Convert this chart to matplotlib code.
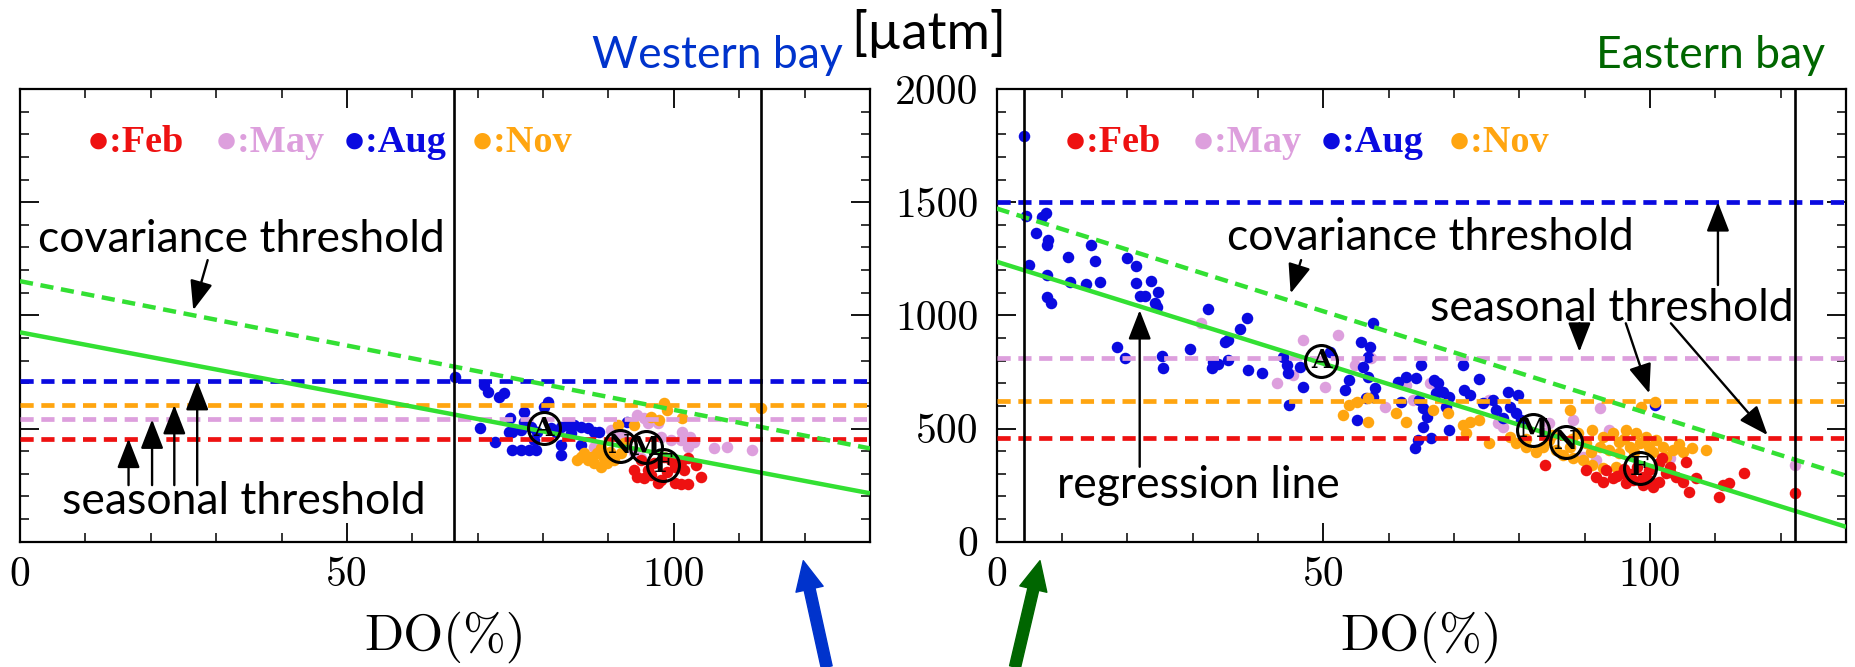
import matplotlib
matplotlib.use('Agg')
import matplotlib.pyplot as plt
from matplotlib.ticker import MultipleLocator, NullFormatter
import numpy as np

plt.rcParams['lines.scale_dashes'] = False
plt.rcParams['axes.formatter.use_mathtext'] = True

# ---------------- data ----------------
months = ['Feb', 'May', 'Aug', 'Nov']
month_colors = ['#ee1111', '#dd9fdd', '#0a0ae0', '#ffa510']

# Western bay scatter (DO %, pCO2 uatm)
west_feb_do = [94.4, 95.5, 96.5, 97.5, 99.0, 100.1, 101.1, 102.1, 101.6, 104.1, 103.4, 101.1, 94.9, 97.0,
               98.5, 99.5, 96.0, 100.1, 102.1, 93.9, 98.0]
west_feb_pco2 = [287, 280, 295, 258, 309, 258, 255, 255, 317, 287, 339, 354, 361, 346,
                 376, 361, 317, 331, 368, 317, 273]
west_may_do = [94.4, 95.5, 96.0, 97.5, 99.5, 101.1, 102.1, 103.1, 106.2, 108.2, 112.0, 93.9, 94.9, 87.8,
               90.4, 91.9, 98.0, 101.3, 102.4]
west_may_pco2 = [560, 545, 523, 523, 449, 449, 420, 442, 412, 420, 405, 398, 368, 420,
                 493, 471, 464, 486, 464]
west_aug_do = [66.5, 70.9, 71.5, 73.3, 74.0, 70.4, 72.7, 75.0, 75.3, 77.1, 77.1, 75.3, 76.6, 77.8, 78.9,
               78.6, 80.7, 80.1, 82.7, 83.7, 84.7, 85.8, 86.8, 87.8, 82.7, 82.7, 85.8, 92.9, 79.1, 81.2,
               81.9, 84.2, 88.6, 74.8, 76.6, 78.1]
west_aug_pco2 = [729, 692, 663, 641, 655, 501, 442, 545, 486, 574, 530, 405, 405, 405, 405,
                 449, 619, 596, 508, 515, 515, 508, 501, 486, 427, 383, 427, 530, 486, 501,
                 486, 479, 486, 486, 493, 508]
west_nov_do = [85.8, 86.8, 87.8, 88.8, 89.8, 90.9, 88.3, 90.3, 86.3, 87.3, 89.3, 91.4, 93.9, 98.5, 99.0,
               97.8, 101.3, 113.3, 96.5, 91.9, 88.8, 92.4, 85.2]
west_nov_pco2 = [376, 361, 346, 331, 346, 361, 390, 398, 390, 376, 368, 515, 515, 611, 582,
                 538, 545, 589, 552, 390, 412, 435, 361]

# Eastern bay scatter
east_feb_do = [83.9, 90.2, 91.8, 92.8, 94.3, 95.8, 97.4, 98.9, 100.4, 101.4, 102.5, 101.4, 103.0, 104.0,
               105.0, 105.5, 106.0, 107.0, 110.6, 111.1, 112.1, 114.4, 96.4, 99.9, 93.3, 101.9, 122.2,
               95.0, 97.0, 99.0, 100.0, 103.0, 98.0, 96.0]
east_feb_pco2 = [339, 317, 287, 265, 280, 302, 273, 251, 243, 265, 302, 346, 331, 287,
                 265, 354, 221, 280, 199, 251, 258, 302, 258, 317, 317, 368, 214,
                 290, 300, 285, 270, 310, 330, 320]
east_may_do = [31.3, 42.9, 46.9, 52.3, 57.3, 45.4, 50.2, 54.8, 59.4, 62.7, 66.3, 68.8, 77.5, 84.6, 88.2,
               92.3, 89.7, 91.8, 103.0, 93.8, 84.1, 122.2, 63.7, 75.4, 76.7]
east_may_pco2 = [966, 700, 891, 911, 810, 736, 685, 781, 597, 692, 700, 619, 508, 523, 538,
                 589, 376, 361, 368, 493, 479, 339, 626, 626, 523]
east_aug_do = [4.2, 4.5, 6.9, 7.6, 6.0, 7.8, 7.7, 4.9, 7.7, 7.7, 8.3, 11.0, 11.2, 13.7, 14.5, 15.0, 15.8,
               19.9, 21.3, 21.3, 23.7, 24.7, 21.9, 22.7, 24.2, 24.5, 32.4, 38.3, 37.2, 35.4, 34.9, 29.6,
               18.4, 19.6, 25.3, 25.5, 33.0, 33.1, 33.9, 35.4, 38.5, 40.6, 44.8, 57.6,
               43.8, 44.4, 44.6, 46.4, 46.9, 51.0, 55.8, 57.1, 56.8, 56.1, 56.8, 54.0, 53.3, 57.9, 57.6,
               56.6, 55.1, 61.4, 62.7, 64.2, 65.0, 67.0, 67.5, 67.3, 68.3, 69.3, 61.9, 64.7, 65.3, 65.8,
               65.3, 69.3, 66.5, 64.0, 64.5, 71.4, 73.9, 71.6, 72.4, 74.4, 75.9, 78.3, 79.8, 78.5, 76.5,
               77.5, 79.5, 80.3, 100.7, 68.8]
east_aug_pco2 = [1791, 1439, 1433, 1450, 1365, 1333, 1311, 1222, 1178, 1082, 1053, 1256, 1149, 1138, 1311,
                 1241, 1149, 1252, 1218, 1141, 1153, 1104, 1085, 1085, 1053, 1038, 1026, 987, 938, 891,
                 884, 852, 862, 810, 820, 768, 766, 795, 786, 803, 758, 744, 604, 967,
                 817, 781, 744, 773, 685, 839, 884, 862, 817, 773, 729, 714, 670, 677, 641,
                 633, 538, 707, 729, 722, 781, 714, 700, 656, 663, 641, 619, 626, 589, 552,
                 508, 493, 457, 412, 449, 781, 717, 670, 648, 611, 626, 663, 648, 597, 582,
                 545, 567, 538, 605, 597]
east_nov_do = [53.0, 54.0, 55.1, 56.8, 56.8, 61.2, 62.7, 66.8, 69.1, 71.4, 72.4, 73.9, 75.4, 71.9, 87.7,
               98.6, 100.7, 108.6, 78.5, 79.5, 81.1, 82.6, 84.6, 85.6, 86.7, 88.2, 89.7, 91.2, 92.8, 94.3,
               96.3, 97.9, 99.4, 100.9, 102.0, 103.5, 105.0, 92.3, 93.8, 95.3, 96.9, 99.9, 91.2, 92.8,
               94.8, 83.6, 90.2, 87.7, 95.3, 98.4, 102.5, 81.0, 85.0, 88.0, 91.0, 97.5, 100.5, 104.5,
               106.5, 96.0, 89.0]
east_nov_pco2 = [560, 604, 619, 633, 530, 567, 530, 582, 567, 516, 530, 538, 435, 479, 582,
                 597, 619, 405, 464, 435, 420, 398, 449, 405, 383, 368, 361, 493, 464, 479,
                 493, 479, 464, 449, 420, 405, 398, 420, 405, 390, 420, 420, 339, 324,
                 331, 420, 435, 420, 442, 435, 376, 455, 470, 455, 395, 395, 395, 430,
                 415, 455, 480]

# seasonal thresholds (Feb, May, Aug, Nov)
west_thresholds = [455, 540, 710, 604]
east_thresholds = [457, 812, 1500, 621]
# regression line and covariance threshold: (intercept, slope)
west_regression = (925, -5.47)
west_covariance = (1151, -5.685)
east_regression = (1237, -9.01)
east_covariance = (1472, -9.08)
# DO range limits (vertical lines)
west_do_limits = [66.4, 113.3]
east_do_limits = [4.2, 122.2]
# seasonal mean points (letter, DO, pCO2)
west_means = [('A', 80.1, 501), ('N', 91.8, 423), ('M', 95.7, 417), ('F', 98.4, 339)]
east_means = [('A', 49.7, 800), ('M', 82.1, 495), ('N', 87.2, 442), ('F', 98.4, 326)]

x_ticks = [0, 50, 100]
y_ticks = [0, 500, 1000, 1500, 2000]

# ---------------- figure ----------------
W, H = 1856, 667
fig = plt.figure(figsize=(W / 100, H / 100), dpi=100)


def fx(px):
    return px / W


def fy(py):
    return 1 - py / H


ax_w = fig.add_axes([fx(20), fy(541.7), fx(870) - fx(20), fy(89) - fy(541.7)])
ax_e = fig.add_axes([fx(996.6), fy(541.7), fx(1846) - fx(996.6), fy(89) - fy(541.7)])

green = '#33e033'
TXT = ['Lato', 'DejaVu Sans']
TS = 32

west_sets = [(west_feb_do, west_feb_pco2), (west_may_do, west_may_pco2),
             (west_aug_do, west_aug_pco2), (west_nov_do, west_nov_pco2)]
east_sets = [(east_feb_do, east_feb_pco2), (east_may_do, east_may_pco2),
             (east_aug_do, east_aug_pco2), (east_nov_do, east_nov_pco2)]

draw_order = [1, 2, 3, 0]

for ax, sets, thr, reg, cov, lims, means in [
        (ax_w, west_sets, west_thresholds, west_regression, west_covariance, west_do_limits, west_means),
        (ax_e, east_sets, east_thresholds, east_regression, east_covariance, east_do_limits, east_means)]:
    ax.set_xlim(0, 130)
    ax.set_ylim(0, 2000)
    for i in draw_order:
        xs, ys = sets[i]
        ax.plot(xs, ys, 'o', color=month_colors[i], ms=8.3, mec='none', zorder=2)
    for i in range(4):
        ax.axhline(thr[i], color=month_colors[i], lw=3.4, dashes=(9.5, 5.5), zorder=3)
    xx = np.array([0, 130])
    ax.plot(xx, reg[0] + reg[1] * xx, color=green, lw=3.2, zorder=4, solid_capstyle='butt')
    ax.plot(xx, cov[0] + cov[1] * xx, color=green, lw=3.2, dashes=(9.5, 5.5), zorder=4)
    for v in lims:
        ax.axvline(v, color='black', lw=1.9, zorder=5)
    for letter, dx, dy in means:
        ax.plot(dx, dy, 'o', ms=23, mfc='none', mec='black', mew=2.2, zorder=6)
        ax.text(dx, dy, letter, ha='center', va='center', fontsize=19, fontweight='heavy',
                family=['DejaVu Serif'], color='black', zorder=7)
    # legend text
    for i, (m, c) in enumerate(zip(months, month_colors)):
        ax.text(10.2 + 19.6 * i, 1765, '\u25cf:' + m, color=c, fontsize=27.5, fontweight='bold',
                family=['Liberation Serif', 'DejaVu Sans'], ha='left', va='center', zorder=7)

    ax.xaxis.set_major_locator(MultipleLocator(50))
    ax.xaxis.set_minor_locator(MultipleLocator(10))
    ax.yaxis.set_major_locator(MultipleLocator(500))
    ax.yaxis.set_minor_locator(MultipleLocator(100))
    ax.set_xticks(x_ticks)
    ax.set_xticklabels([str(t) for t in x_ticks])
    ax.tick_params(which='major', direction='in', length=13.5, width=1.3, top=True, right=True,
                   labelsize=30, pad=11)
    ax.tick_params(which='minor', direction='in', length=6.5, width=1.1, top=True, right=True)
    for lab in ax.get_xticklabels() + ax.get_yticklabels():
        lab.set_family('cmr10')
    for s in ax.spines.values():
        s.set_linewidth(1.6)
    ax.set_xlabel('DO(%)', family='cmr10', fontsize=37)
    ax.xaxis.set_label_coords(0.5, (541.7 - 637) / 452.7)
    ax.xaxis.label.set_va('center')

ax_w.yaxis.set_major_formatter(NullFormatter())
ax_e.set_yticks(y_ticks)
ax_e.set_yticklabels([str(t) for t in y_ticks])
for lab in ax_e.get_yticklabels():
    lab.set_family('cmr10')
ax_e.tick_params(axis='y', which='major', pad=13)

# ---------------- annotations ----------------
arrow_kw = dict(arrowstyle='-|>,head_length=0.9,head_width=0.35', color='black', lw=1.7,
                mutation_scale=20, shrinkA=0, shrinkB=0)

# western
ax_w.text(2.8, 1333, 'covariance threshold', family=TXT, fontsize=TS, ha='left', va='center')
ax_w.annotate('', xy=(26.5, 1023), xytext=(28.7, 1244), arrowprops=arrow_kw)
ax_w.text(6.4, 177, 'seasonal threshold', family=TXT, fontsize=TS, ha='left', va='center')
for xa, tip in zip([16.6, 20.2, 23.6, 27.1], [455, 540, 604, 710]):
    ax_w.annotate('', xy=(xa, tip), xytext=(xa, 250), arrowprops=arrow_kw)

# eastern
ax_e.text(35.2, 1345, 'covariance threshold', family=TXT, fontsize=TS, ha='left', va='center')
ax_e.annotate('', xy=(45.0, 1097), xytext=(46.6, 1244), arrowprops=arrow_kw)
ax_e.text(66.3, 1032, 'seasonal threshold', family=TXT, fontsize=TS, ha='left', va='center')
ax_e.annotate('', xy=(110.4, 1500), xytext=(110.4, 1134), arrowprops=arrow_kw)
ax_e.annotate('', xy=(89.2, 839), xytext=(89.2, 965), arrowprops=arrow_kw)
ax_e.annotate('', xy=(99.9, 655), xytext=(96.3, 965), arrowprops=arrow_kw)
ax_e.annotate('', xy=(118.0, 471), xytext=(103.2, 965), arrowprops=arrow_kw)
ax_e.text(9.2, 250, 'regression line', family=TXT, fontsize=TS, ha='left', va='center')
ax_e.annotate('', xy=(21.9, 1023), xytext=(21.9, 331), arrowprops=arrow_kw)

# titles
fig.text(fx(843), fy(68), 'Western bay', color='#0033cc', family=TXT, fontsize=32,
         ha='right', va='baseline')
fig.text(fx(1825), fy(68), 'Eastern bay', color='#006600', family=TXT, fontsize=32,
         ha='right', va='baseline')
fig.text(fx(851), fy(33), '[\u00b5atm]', color='black', family=TXT, fontsize=38,
         ha='left', va='center')

# big pointer arrows below the panels
big_kw = dict(arrowstyle='simple,head_length=2.1,head_width=2.0,tail_width=0.8',
              mutation_scale=10, shrinkA=0, shrinkB=0)
fig.add_artist(matplotlib.patches.FancyArrowPatch(
    (826.7, H - 667), (803.3, H - 560.7), transform=None, color='#0033cc', **big_kw))
fig.add_artist(matplotlib.patches.FancyArrowPatch(
    (1015, H - 667), (1040, H - 560.7), transform=None, color='#006600', **big_kw))

fig.savefig('out.png', dpi=100)
